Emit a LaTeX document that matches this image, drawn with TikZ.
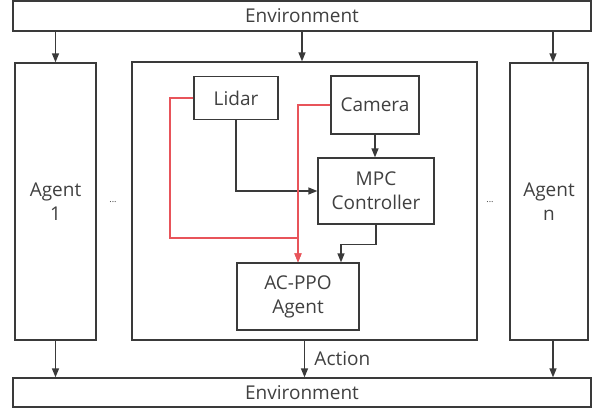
\documentclass[tikz,border=0pt]{standalone}
\usepackage{fontspec}
\setmainfont{Open Sans}
\usepackage{xcolor}
\usetikzlibrary{arrows.meta}
\definecolor{linegray}{HTML}{3A3A3A}
\definecolor{textgray}{HTML}{404040}
\definecolor{sensred}{HTML}{E8545A}

\begin{document}
\begin{tikzpicture}[x=1pt,y=-1pt,
  box/.style={draw=linegray,line width=1.3pt,inner sep=0pt,align=center,text=textgray,font=\fontsize{19}{24}\selectfont},
  arr/.style={draw=linegray,line width=1.3pt,-{Triangle[length=9pt,width=7pt]}},
  redarr/.style={draw=sensred,line width=1.4pt,-{Triangle[length=9pt,width=7pt]}},
  dots/.style={text=textgray,font=\fontsize{9}{10}\selectfont}]
\useasboundingbox (0,0) rectangle (601,410);

% environment on both ends
\node (envtop) at (302,16)[box,minimum width=578pt,minimum height=30pt]{Environment};
\node (envbot) at (302,392.5)[box,minimum width=578pt,minimum height=29pt]{Environment};

% agents
\node (agent1) at (55.5,201.5)[box,minimum width=81pt,minimum height=277pt]{Agent\\1};
\node (agentn) at (549,201.5)[box,minimum width=78pt,minimum height=277pt]{Agent\\n};
\node (main) at (304.5,201)[box,minimum width=345pt,minimum height=278pt]{};
\node (dotsl) at (113,202)[dots]{...};
\node (dotsr) at (490,202)[dots]{...};

% inside the centre agent
\node (lidar) at (236,98)[box,minimum width=84pt,minimum height=43pt]{Lidar};
\node (camera) at (375,105)[box,minimum width=88pt,minimum height=58pt]{Camera};
\node (mpc) at (376,191)[box,minimum width=116pt,minimum height=66pt]{MPC\\Controller};
\node (acppo) at (298,296.5)[box,minimum width=122pt,minimum height=67pt]{AC-PPO\\Agent};
\coordinate (redjoin) at ([yshift=24.5pt]acppo.north);

\draw[arr] (agent1.north |- envtop.south) -- (agent1.north);
\draw[arr] ([xshift=-2.5pt]main.north |- envtop.south) -- ([xshift=-2.5pt]main.north);
\draw[arr] ([xshift=4pt]agentn.north |- envtop.south) -- ([xshift=4pt]agentn.north);

\draw[arr] (lidar.south) |- (mpc.west);
\draw[arr] (camera.south) -- (camera.south |- mpc.north);
\draw[arr] (mpc.south) -- ++(0,20) -| ([xshift=43pt]acppo.north);
\draw[redarr] (lidar.west) -- ++(-23.5,0) |- (redjoin) -- (acppo.north);
\draw[redarr] (camera.west) -| (acppo.north);

\draw[arr] (agent1.south) -- (agent1.south |- envbot.north);
\draw[arr] (main.south) -- (main.south |- envbot.north)
  node[midway,right=6pt,text=textgray,font=\fontsize{19}{24}\selectfont]{Action};
\draw[arr] ([xshift=4pt]agentn.south) -- ([xshift=4pt]agentn.south |- envbot.north);
\end{tikzpicture}
\end{document}
